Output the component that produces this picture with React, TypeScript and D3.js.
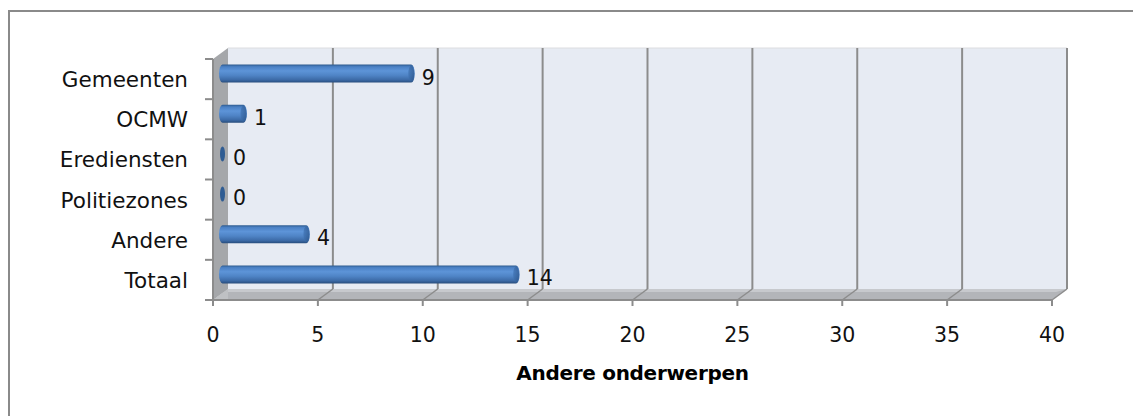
import { useEffect, useRef } from 'react';
import * as d3 from 'd3';

// categorieën (van boven naar onder) en aantallen
const categories = ['Gemeenten', 'OCMW', 'Erediensten', 'Politiezones', 'Andere', 'Totaal'];
const values = [9, 1, 0, 0, 4, 14];
const xTicks = [0, 5, 10, 15, 20, 25, 30, 35, 40];
const axisTitle = 'Andere onderwerpen';

const W = 1133;
const H = 416;

export default function App() {
  const svgRef = useRef<SVGSVGElement>(null);

  useEffect(() => {
    if (!svgRef.current) return;
    const svg = d3.select(svgRef.current);
    svg.selectAll('*').remove();

    // front plane
    const left = 213;
    const right = 1052;
    const top = 59;
    const bottom = 300;
    // 3D depth offset
    const dx = 15;
    const dy = -11;

    const x = d3.scaleLinear().domain([0, 40]).range([left, right]);
    const y = d3.scaleBand<string>().domain(categories).range([top, bottom]);

    const defs = svg.append('defs');
    const grad = defs.append('linearGradient')
      .attr('id', 'cyl')
      .attr('x1', 0).attr('y1', 0).attr('x2', 0).attr('y2', 1);
    [
      [0, '#2d5a8e'],
      [0.12, '#4a80c4'],
      [0.35, '#5d94d8'],
      [0.6, '#4f84c6'],
      [0.85, '#3c6aa6'],
      [1, '#274c7c'],
    ].forEach(([o, c]) => grad.append('stop').attr('offset', o as number).attr('stop-color', c as string));

    const capGrad = defs.append('linearGradient')
      .attr('id', 'cap')
      .attr('x1', 0).attr('y1', 0).attr('x2', 1).attr('y2', 0);
    capGrad.append('stop').attr('offset', 0).attr('stop-color', '#3f72b2');
    capGrad.append('stop').attr('offset', 1).attr('stop-color', '#2b5489');

    // outer border (top + left only)
    svg.append('path')
      .attr('d', `M9,${H} L9,11 L${W},11`)
      .attr('fill', 'none')
      .attr('stroke', '#8a8a8a')
      .attr('stroke-width', 2);

    // back wall
    svg.append('rect')
      .attr('x', left + dx).attr('y', top + dy)
      .attr('width', right - left).attr('height', bottom - top)
      .attr('fill', '#e7ebf3');
    svg.append('line')
      .attr('x1', left + dx).attr('x2', right + dx)
      .attr('y1', top + dy).attr('y2', top + dy)
      .attr('stroke', '#dcdde0').attr('stroke-width', 1);

    // floor
    svg.append('path')
      .attr('d', `M${left},${bottom} L${right},${bottom} L${right + dx},${bottom + dy} L${left + dx},${bottom + dy} Z`)
      .attr('fill', '#b3b5b9');
    svg.append('path')
      .attr('d', `M${left + 4},${bottom + dy + 3} L${right + 4},${bottom + dy + 3} L${right + dx},${bottom + dy} L${left + dx},${bottom + dy} Z`)
      .attr('fill', '#c7c9cd');

    // left side wall
    svg.append('path')
      .attr('d', `M${left},${top} L${left + dx},${top + dy} L${left + dx},${bottom + dy} L${left},${bottom} Z`)
      .attr('fill', '#a5a7aa');
    svg.append('path')
      .attr('d', `M${left + dx},${bottom + dy} L${left},${bottom} L${left + dx},${bottom}`)
      .attr('fill', '#bfc1c4');

    // grid lines on back wall + floor
    const grid = svg.append('g');
    grid.selectAll('line.v')
      .data(xTicks.slice(1))
      .enter()
      .append('line')
      .attr('x1', (d) => x(d) + dx).attr('x2', (d) => x(d) + dx)
      .attr('y1', top + dy).attr('y2', bottom + dy)
      .attr('stroke', '#8c8c8c').attr('stroke-width', 2);
    grid.selectAll('line.f')
      .data(xTicks.slice(1))
      .enter()
      .append('line')
      .attr('x1', (d) => x(d) + dx).attr('x2', (d) => x(d))
      .attr('y1', bottom + dy).attr('y2', bottom)
      .attr('stroke', '#8c8c8c').attr('stroke-width', 1.5);

    // axes
    svg.append('line')
      .attr('x1', left - 8).attr('x2', right)
      .attr('y1', bottom).attr('y2', bottom)
      .attr('stroke', '#8c8c8c').attr('stroke-width', 2);
    svg.append('line')
      .attr('x1', left).attr('x2', left)
      .attr('y1', top).attr('y2', bottom)
      .attr('stroke', '#8c8c8c').attr('stroke-width', 2);
    svg.selectAll('line.xt')
      .data(xTicks)
      .enter()
      .append('line')
      .attr('x1', (d) => x(d)).attr('x2', (d) => x(d))
      .attr('y1', bottom).attr('y2', bottom + 6)
      .attr('stroke', '#8c8c8c').attr('stroke-width', 2);
    const yEdges = [...categories.map((c) => y(c)!), bottom];
    svg.selectAll('line.yt')
      .data(yEdges)
      .enter()
      .append('line')
      .attr('x1', left - 8).attr('x2', left)
      .attr('y1', (d) => d).attr('y2', (d) => d)
      .attr('stroke', '#8c8c8c').attr('stroke-width', 2);

    const font = '"DejaVu Sans", sans-serif';

    // tick labels
    svg.selectAll('text.xl')
      .data(xTicks)
      .enter()
      .append('text')
      .attr('x', (d) => x(d))
      .attr('y', 342)
      .attr('text-anchor', 'middle')
      .attr('font-family', font)
      .attr('font-size', 20.5)
      .attr('fill', '#111')
      .text((d) => d);

    svg.selectAll('text.yl')
      .data(categories)
      .enter()
      .append('text')
      .attr('x', 188)
      .attr('y', (d) => y(d)! + y.bandwidth() / 2 + 8)
      .attr('text-anchor', 'end')
      .attr('font-family', font)
      .attr('font-size', 21.5)
      .attr('fill', '#111')
      .text((d) => d);

    // cylinder bars at mid depth
    const mx = dx / 2 + 2;
    const my = dy / 2;
    const barH = 18;
    const rx = 3.5;
    const bars = svg.append('g');
    categories.forEach((c, i) => {
      const v = values[i];
      const cy = y(c)! + y.bandwidth() / 2 + my;
      const x0 = x(0) + mx;
      const x1 = x(v) + mx;
      const g = bars.append('g');
      if (v > 0) {
        g.append('path')
          .attr('d', `M${x0},${cy - barH / 2} L${x1},${cy - barH / 2} A${rx},${barH / 2} 0 0 1 ${x1},${cy + barH / 2} L${x0},${cy + barH / 2} A${rx},${barH / 2} 0 0 1 ${x0},${cy - barH / 2} Z`)
          .attr('fill', 'url(#cyl)');
        g.append('ellipse')
          .attr('cx', x1).attr('cy', cy)
          .attr('rx', rx - 0.5).attr('ry', barH / 2 - 1)
          .attr('fill', 'url(#cap)')
          .attr('opacity', 0.7);
      } else {
        g.append('ellipse')
          .attr('cx', x0).attr('cy', cy)
          .attr('rx', 2.5).attr('ry', 7.5)
          .attr('fill', '#2f5c93');
      }
      // value label
      svg.append('text')
        .attr('x', x1 + rx + 7)
        .attr('y', cy + 11)
        .attr('font-family', font)
        .attr('font-size', 20.5)
        .attr('fill', '#111')
        .text(v);
    });

    // axis title
    svg.append('text')
      .attr('x', (left + right) / 2)
      .attr('y', 380)
      .attr('text-anchor', 'middle')
      .attr('font-family', font)
      .attr('font-weight', 'bold')
      .attr('font-size', 20)
      .attr('letter-spacing', -0.3)
      .attr('fill', '#000')
      .text(axisTitle);
  }, []);

  return (
    <svg
      ref={svgRef}
      width={W}
      height={H}
      style={{ position: 'absolute', left: 0, top: 0, background: '#fff' }}
    />
  );
}
